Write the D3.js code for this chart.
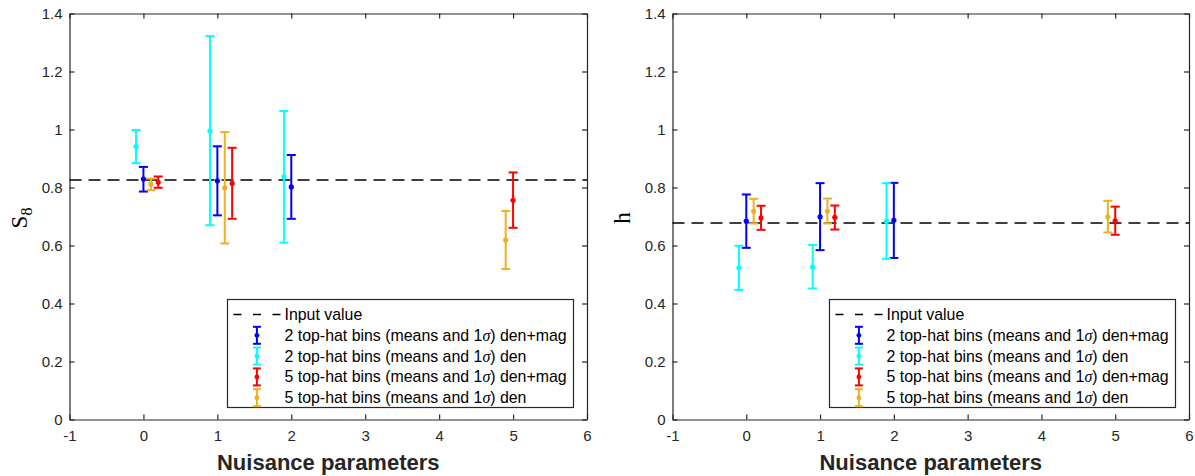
<!DOCTYPE html>
<html>
<head>
<meta charset="utf-8">
<script src="https://cdn.jsdelivr.net/npm/d3@7"></script>
<style>
  html, body { margin: 0; padding: 0; background: #fff; }
  svg { display: block; }
  text { font-family: "Liberation Sans", Arial, Helvetica, sans-serif; }
</style>
</head>
<body>
<svg id="chart" width="1195" height="476"></svg>
<script>
// Fitted S8 and h for each nuisance-parameter setup (mean with 1-sigma range)
const xTicks = [-1, 0, 1, 2, 3, 4, 5, 6];
const yTicks = [0, 0.2, 0.4, 0.6, 0.8, 1, 1.2, 1.4];

const seriesNames = [
  "2 top-hat bins (means and 1σ) den+mag",
  "2 top-hat bins (means and 1σ) den",
  "5 top-hat bins (means and 1σ) den+mag",
  "5 top-hat bins (means and 1σ) den"
];
const seriesColors = ["#0000ff", "#00ffff", "#ff0000", "#edb120"];

// Horizontal positions (number of nuisance parameters, slightly offset per series)
const xTwoBinsMag = [0, 1, 2];
const xTwoBinsDen = [-0.1, 0.9, 1.9];
const xFiveBinsMag = [0.2, 1.2, 5.0];
const xFiveBinsDen = [0.1, 1.1, 4.9];

// S8
const s8Input = 0.826;
const s8TwoBinsMagMean = [0.829, 0.823, 0.802];
const s8TwoBinsMagLow  = [0.786, 0.704, 0.692];
const s8TwoBinsMagHigh = [0.871, 0.942, 0.912];
const s8TwoBinsDenMean = [0.941, 0.995, 0.837];
const s8TwoBinsDenLow  = [0.884, 0.670, 0.610];
const s8TwoBinsDenHigh = [0.998, 1.322, 1.064];
const s8FiveBinsMagMean = [0.818, 0.814, 0.756];
const s8FiveBinsMagLow  = [0.799, 0.692, 0.661];
const s8FiveBinsMagHigh = [0.838, 0.937, 0.852];
const s8FiveBinsDenMean = [0.812, 0.799, 0.619];
const s8FiveBinsDenLow  = [0.791, 0.607, 0.519];
const s8FiveBinsDenHigh = [0.831, 0.991, 0.719];

// h
const hInput = 0.678;
const hTwoBinsMagMean = [0.684, 0.699, 0.687];
const hTwoBinsMagLow  = [0.592, 0.584, 0.557];
const hTwoBinsMagHigh = [0.776, 0.815, 0.816];
const hTwoBinsDenMean = [0.523, 0.526, 0.684];
const hTwoBinsDenLow  = [0.447, 0.452, 0.554];
const hTwoBinsDenHigh = [0.599, 0.602, 0.815];
const hFiveBinsMagMean = [0.695, 0.697, 0.685];
const hFiveBinsMagLow  = [0.654, 0.655, 0.637];
const hFiveBinsMagHigh = [0.737, 0.738, 0.734];
const hFiveBinsDenMean = [0.718, 0.719, 0.699];
const hFiveBinsDenLow  = [0.676, 0.676, 0.645];
const hFiveBinsDenHigh = [0.761, 0.762, 0.754];

function buildSeries(xs, means, lows, highs) {
  return xs.map((x, i) => ({ x, mean: means[i], low: lows[i], high: highs[i] }));
}

const panels = [
  {
    left: 69.5, right: 587,
    label: "S", sub: "8",
    input: s8Input,
    series: [
      buildSeries(xTwoBinsMag, s8TwoBinsMagMean, s8TwoBinsMagLow, s8TwoBinsMagHigh),
      buildSeries(xTwoBinsDen, s8TwoBinsDenMean, s8TwoBinsDenLow, s8TwoBinsDenHigh),
      buildSeries(xFiveBinsMag, s8FiveBinsMagMean, s8FiveBinsMagLow, s8FiveBinsMagHigh),
      buildSeries(xFiveBinsDen, s8FiveBinsDenMean, s8FiveBinsDenLow, s8FiveBinsDenHigh)
    ]
  },
  {
    left: 672.5, right: 1189,
    label: "h", sub: null,
    input: hInput,
    series: [
      buildSeries(xTwoBinsMag, hTwoBinsMagMean, hTwoBinsMagLow, hTwoBinsMagHigh),
      buildSeries(xTwoBinsDen, hTwoBinsDenMean, hTwoBinsDenLow, hTwoBinsDenHigh),
      buildSeries(xFiveBinsMag, hFiveBinsMagMean, hFiveBinsMagLow, hFiveBinsMagHigh),
      buildSeries(xFiveBinsDen, hFiveBinsDenMean, hFiveBinsDenLow, hFiveBinsDenHigh)
    ]
  }
];

const TOP = 13.5, BOTTOM = 419.5;
const axisColor = "#262626";
const svg = d3.select("#chart");
// Plain hyphen for negative numbers, shortest decimal form otherwise
const plainNumber = d => String(+d.toFixed(2));

panels.forEach(p => {
  const x = d3.scaleLinear().domain([-1, 6]).range([p.left, p.right]);
  const y = d3.scaleLinear().domain([0, 1.4]).range([BOTTOM, TOP]);
  const g = svg.append("g");

  // Box axes with inward ticks on all four sides
  const styleAxis = sel => {
    sel.selectAll("path.domain").attr("stroke", axisColor).attr("stroke-width", 1.2);
    sel.selectAll(".tick line").attr("stroke", axisColor).attr("stroke-width", 1.2);
    sel.selectAll(".tick text").attr("fill", axisColor)
      .style("font-size", "15px")
      .style("font-family", '"Liberation Sans", Arial, Helvetica, sans-serif');
  };
  g.append("g").attr("transform", `translate(0,${BOTTOM})`)
    .call(d3.axisBottom(x).tickValues(xTicks).tickFormat(plainNumber)
      .tickSizeInner(-5).tickSizeOuter(0).tickPadding(11))
    .call(styleAxis);
  g.append("g").attr("transform", `translate(0,${TOP})`)
    .call(d3.axisTop(x).tickValues(xTicks).tickFormat("")
      .tickSizeInner(-5).tickSizeOuter(0))
    .call(styleAxis);
  g.append("g").attr("transform", `translate(${p.left},0)`)
    .call(d3.axisLeft(y).tickValues(yTicks).tickFormat(plainNumber)
      .tickSizeInner(-5).tickSizeOuter(0).tickPadding(7))
    .call(styleAxis);
  g.append("g").attr("transform", `translate(${p.right},0)`)
    .call(d3.axisRight(y).tickValues(yTicks).tickFormat("")
      .tickSizeInner(-5).tickSizeOuter(0))
    .call(styleAxis);
  g.selectAll(".domain").attr("fill", "none");

  // Input value reference line
  g.append("line")
    .attr("x1", x(-1)).attr("x2", x(6))
    .attr("y1", y(p.input)).attr("y2", y(p.input))
    .attr("stroke", "#000").attr("stroke-width", 1.5)
    .attr("stroke-dasharray", "12,7");

  // Error bars with caps and mean markers
  const capHalf = 4.5;
  p.series.forEach((pts, si) => {
    const col = seriesColors[si];
    const sg = g.append("g");
    const bars = sg.selectAll("g.bar").data(pts).join("g").attr("class", "bar");
    bars.append("line")
      .attr("x1", d => x(d.x)).attr("x2", d => x(d.x))
      .attr("y1", d => y(d.low)).attr("y2", d => y(d.high))
      .attr("stroke", col).attr("stroke-width", 2);
    bars.append("line")
      .attr("x1", d => x(d.x) - capHalf).attr("x2", d => x(d.x) + capHalf)
      .attr("y1", d => y(d.low)).attr("y2", d => y(d.low))
      .attr("stroke", col).attr("stroke-width", 2);
    bars.append("line")
      .attr("x1", d => x(d.x) - capHalf).attr("x2", d => x(d.x) + capHalf)
      .attr("y1", d => y(d.high)).attr("y2", d => y(d.high))
      .attr("stroke", col).attr("stroke-width", 2);
    bars.append("circle")
      .attr("cx", d => x(d.x)).attr("cy", d => y(d.mean))
      .attr("r", 2.6).attr("fill", col);
  });

  // Axis titles
  g.append("text")
    .attr("x", (p.left + p.right) / 2).attr("y", 470)
    .attr("text-anchor", "middle")
    .attr("fill", axisColor)
    .style("font-size", "22px").style("font-weight", "bold")
    .text("Nuisance parameters");

  const yl = g.append("text")
    .attr("transform", `translate(${p.left - 43},218) rotate(-90)`)
    .attr("text-anchor", "middle")
    .attr("fill", "#000")
    .style("font-family", '"Liberation Serif", "Times New Roman", serif')
    .style("font-size", "23px");
  yl.append("tspan").text(p.label);
  if (p.sub) {
    yl.append("tspan").attr("dy", 5).style("font-size", "16px").text(p.sub);
  }

  // Legend
  const lw = 346, lh = 108;
  const lx = p.right - 13.5 - lw, ly = BOTTOM - 12 - lh;
  const lg = g.append("g").attr("transform", `translate(${lx},${ly})`);
  lg.append("rect").attr("x", 0).attr("y", 0).attr("width", lw).attr("height", lh)
    .attr("fill", "#fff").attr("stroke", axisColor).attr("stroke-width", 1.2);
  const rowY = i => 15 + i * 20.8;
  const textX = 57;
  const legendFont = "15.9px";
  lg.append("line").attr("x1", 6).attr("x2", 53).attr("y1", rowY(0)).attr("y2", rowY(0))
    .attr("stroke", "#000").attr("stroke-width", 1.5).attr("stroke-dasharray", "8,11.5");
  lg.append("text").attr("x", textX).attr("y", rowY(0)).attr("dy", "0.35em")
    .style("font-size", legendFont).attr("fill", "#000").text("Input value");
  seriesNames.forEach((name, i) => {
    const cy = rowY(i + 1), cx = 29.4, col = seriesColors[i];
    lg.append("line").attr("x1", cx).attr("x2", cx).attr("y1", cy - 8.5).attr("y2", cy + 8.5)
      .attr("stroke", col).attr("stroke-width", 2);
    [cy - 8.5, cy + 8.5].forEach(yy => {
      lg.append("line").attr("x1", cx - 4).attr("x2", cx + 4).attr("y1", yy).attr("y2", yy)
        .attr("stroke", col).attr("stroke-width", 2);
    });
    lg.append("circle").attr("cx", cx).attr("cy", cy).attr("r", 2.4).attr("fill", col);
    const t = lg.append("text").attr("x", textX).attr("y", cy).attr("dy", "0.35em")
      .style("font-size", legendFont).attr("fill", "#000");
    const parts = name.split("σ");
    t.append("tspan").text(parts[0]);
    t.append("tspan").style("font-family", '"Liberation Serif", "Times New Roman", serif')
      .style("font-style", "italic").text("σ");
    t.append("tspan").text(parts[1]);
  });
});
</script>
</body>
</html>
